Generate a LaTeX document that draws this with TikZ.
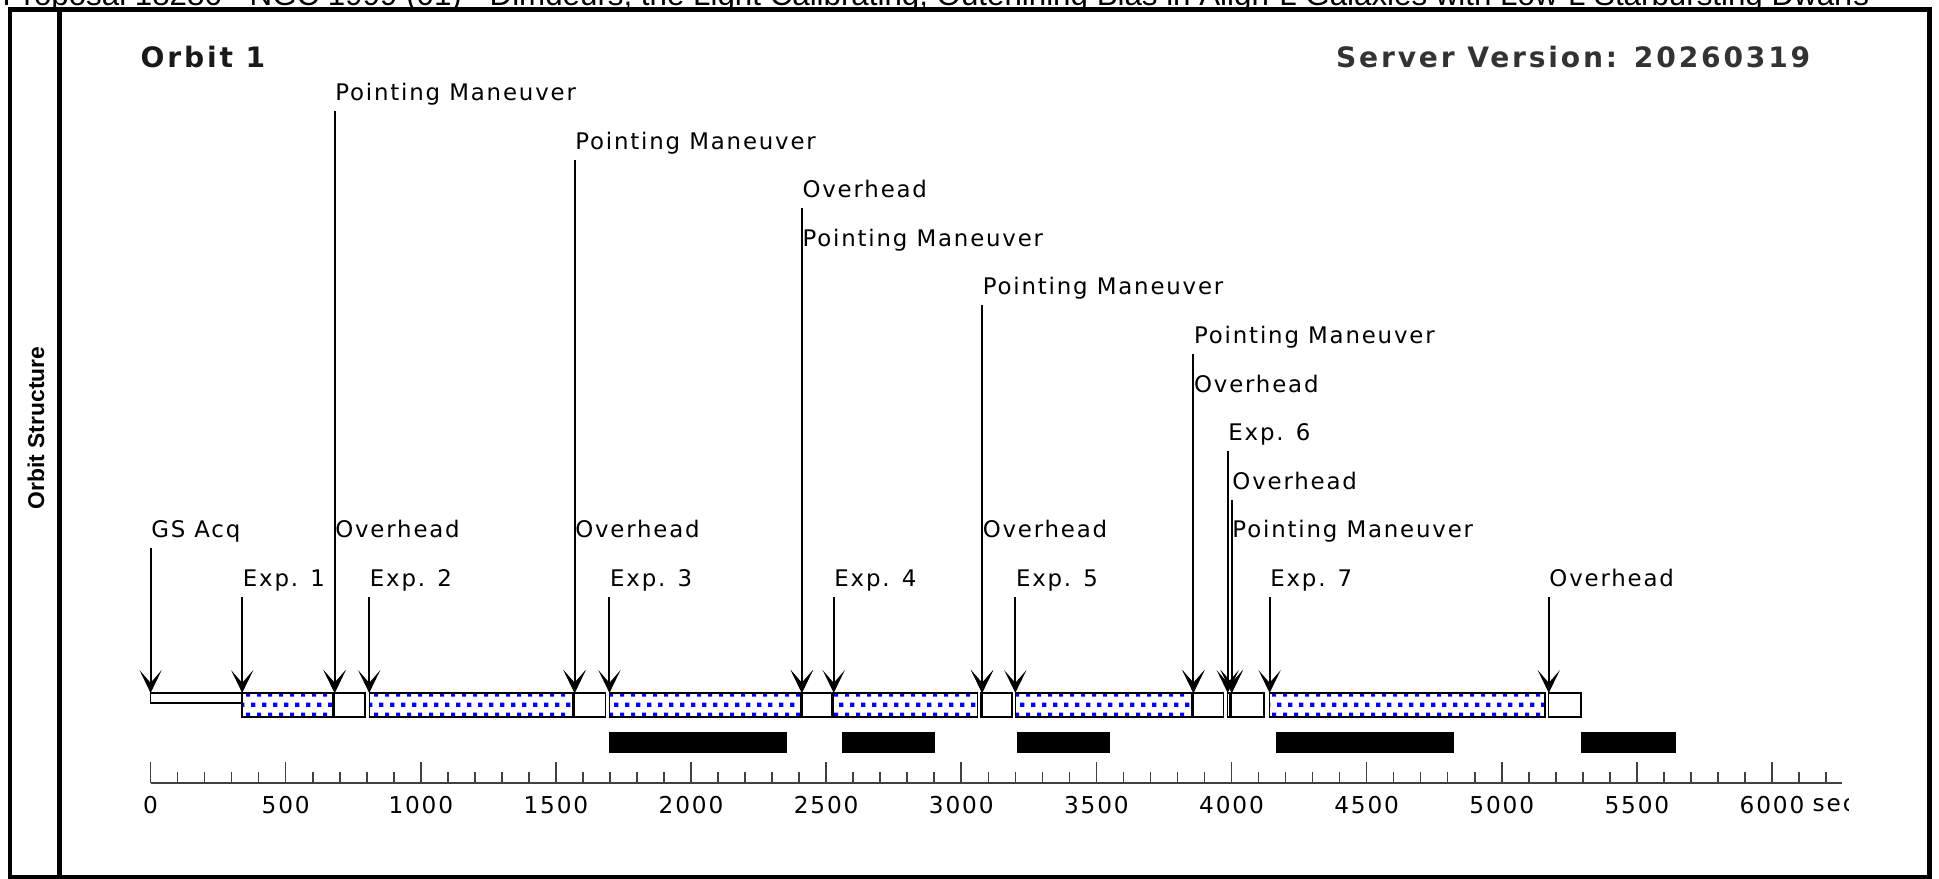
\documentclass[tikz,border=0pt]{standalone}
\usepackage{fontspec}
\setmainfont{DejaVu Sans}
\newfontfamily\lblfont[LetterSpace=8]{DejaVu Sans}
\newfontfamily\ttlfont[LetterSpace=10]{DejaVu Sans}
\newfontfamily\hdrfont{Liberation Sans}
\usetikzlibrary{arrows.meta,patterns}

% blue dots for the exposures
\pgfdeclarepatternformonly{expdots}{\pgfpointorigin}{\pgfqpoint{3.04pt}{5.7pt}}{\pgfqpoint{3.04pt}{5.7pt}}{%
  \pgfpathrectangle{\pgfqpoint{0pt}{0.4pt}}{\pgfqpoint{1.2pt}{1.2pt}}%
  \pgfpathrectangle{\pgfqpoint{1.52pt}{3.25pt}}{\pgfqpoint{1.2pt}{1.2pt}}%
  \pgfusepath{fill}}

\begin{document}
\begin{tikzpicture}[x=0.01cm, y=-0.01cm]
  % Define label, arrow and segment styles
  \tikzstyle{evlabel} = [anchor=south west, inner xsep=0pt, inner ysep=1.3pt,
  text depth=1.5pt, font=\lblfont\fontsize{6.5pt}{7pt}\selectfont]
  \tikzstyle{ticklabel} = [inner sep=0pt, font=\lblfont\fontsize{6.6pt}{7pt}\selectfont]
  \tikzstyle{evarrow} = [-{Stealth[length=6.5pt,width=6.3pt,inset=3.6pt]}, line width=0.55pt]
  \tikzstyle{expbox} = [draw, line width=0.4pt, pattern=expdots, pattern color=blue]
  \tikzstyle{ohbox} = [draw, line width=0.4pt, fill=white]
  \tikzstyle{pmbox} = [draw, line width=0.4pt, fill=black]
  \tikzstyle{axisline} = [draw=black!75, line width=0.45pt]

  \useasboundingbox (0,0) rectangle (1939,878);
  \clip (0,0) rectangle (1939,878);

  \node[anchor=base west, inner sep=0pt, font=\hdrfont\fontsize{8.9pt}{9pt}\selectfont] (hdr) at (2,5)
  {Proposal 18286 - NGC 1999 (01) - Dimdeurs, the Light Calibrating, Outerlining Bias in Aligh-L Galaxies with Low-L Starbursting Dwarfs};

  % frame
  \draw[line width=1.4pt] (10,9.5) rectangle (1929.5,877);
  \draw[line width=1.2pt] (59.5,9.5) -- (59.5,877);
  \node[rotate=90, font=\hdrfont\bfseries\fontsize{6.5pt}{8pt}\selectfont] (side) at (36,428) {Orbit Structure};

  \node[anchor=west, inner sep=0pt, text=black!90, font=\ttlfont\bfseries\fontsize{8pt}{9pt}\selectfont] (orbit) at (140,57) {Orbit 1};
  \node[anchor=east, inner sep=0pt, text=black!80, font=\ttlfont\bfseries\fontsize{8pt}{9pt}\selectfont] (server) at (1811,57) {Server Version: 20260319};

  \begin{scope}[xshift=1.505cm, x=0.002699cm]
    % segments of the orbit
    \draw[ohbox] (0,693) rectangle (339,703);
    \foreach \s/\e in {339/675, 809/1563, 1698/2404, 2528/3060, 3200/3853, 3986/3995, 4141/5160}
      \draw[expbox] (\s,693) rectangle (\e,717);
    \foreach \s/\e in {681/794, 1569/1684, 2410/2521, 3077/3188, 3859/3970, 4001/4120, 5174/5293}
      \draw[ohbox] (\s,693) rectangle (\e,717);
    \foreach \s/\e in {675/681, 1563/1569, 2404/2410, 3071/3077, 3853/3859, 3995/4001}
      \draw[pmbox] (\s,693) rectangle (\e,717);
    \foreach \s/\e in {1698/2354, 2558/2903, 3206/3551, 4164/4822, 5293/5645}
      \fill (\s,732) rectangle (\e,753);

    % events with their arrows
    \foreach \n/\t/\r/\txt in {gs/0/1/GS Acq, eA/339/0/Exp. 1, pmA/681/10/Pointing Maneuver,
      ohA/681/1/Overhead, eB/809/0/Exp. 2, pmB/1569/9/Pointing Maneuver, ohB/1569/1/Overhead,
      eC/1698/0/Exp. 3, ohC/2410/8/Overhead, pmC/2410/7/Pointing Maneuver, eD/2528/0/Exp. 4,
      pmD/3077/6/Pointing Maneuver, ohD/3077/1/Overhead, eE/3200/0/Exp. 5,
      pmE/3859/5/Pointing Maneuver, ohE/3859/4/Overhead, eF/3986/3/Exp. 6,
      ohF/4001/2/Overhead, pmF/4001/1/Pointing Maneuver, eG/4141/0/Exp. 7, ohG/5174/0/Overhead}
    {
      \node[evlabel] (\n) at (\t,{597-48.6*\r}) {\txt};
      \coordinate (\n tip) at (\t,693);
      \draw[evarrow] (\n.south west) -- (\n tip);
    }

    % time axis
    \draw[axisline] (0,783) -- (6260,783);
    \foreach \t in {0,100,...,6200}
      \draw[axisline] (\t,783) -- (\t,772);
    \foreach \t in {0,500,...,6000}
      \draw[axisline] (\t,783) -- (\t,762);
    \foreach \t in {0,500,...,5500}
      \node[ticklabel] (t\t) at (\t,805) {\t};
    \node[ticklabel] (t6000) at (6000,805) {6000};
    \begin{scope}
      \clip (5800,780) rectangle (6282,830);
      \node[ticklabel, anchor=west, inner xsep=2pt] (sec) at (t6000.east) {sec};
    \end{scope}
  \end{scope}
\end{tikzpicture}
\end{document}
